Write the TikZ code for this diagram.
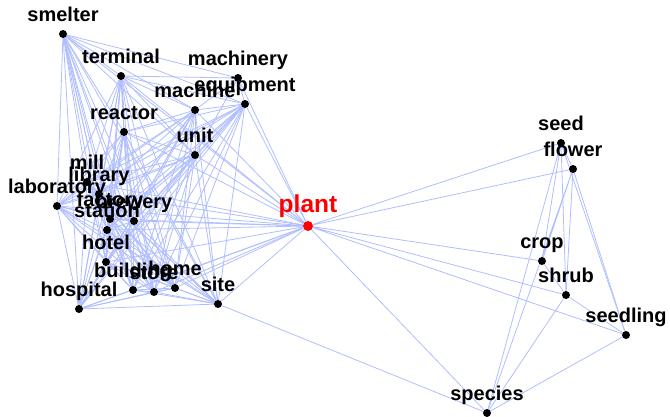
\documentclass[tikz,border=0pt]{standalone}
\usepackage{fontspec}
\setmainfont{Liberation Sans}
\usetikzlibrary{backgrounds}
\definecolor{edgeblue}{RGB}{176,190,255}
\definecolor{plantred}{RGB}{255,0,0}

\begin{document}
\begin{tikzpicture}[x=1pt, y=-1pt, label distance=8.5pt,
  every node/.style={font=\bfseries\fontsize{20}{24}\selectfont},
  dot/.style={circle, fill=black, inner sep=0pt, minimum size=8pt},
  word/.style={inner sep=0pt, text depth=0pt},
  edge/.style={draw=edgeblue, line width=0.8pt}]
  \useasboundingbox (0,0) rectangle (670,417);
  % industrial cluster
  \node[dot, label={[word]above:smelter}] (smelter) at (63,34) {};
  \node[dot, label={[word]above:terminal}] (terminal) at (121,76) {};
  \node[dot, label={[word]above:machinery}] (machinery) at (238,78) {};
  \node[dot, label={[word]above:equipment}] (equipment) at (245,104) {};
  \node[dot, label={[word]above:machine}] (machine) at (195,110) {};
  \node[dot, label={[word]above:reactor}] (reactor) at (124,132) {};
  \node[dot, label={[word]above:unit}] (unit) at (195,155) {};
  \node[dot, label={[word]above:mill}] (mill) at (87,182) {};
  \node[dot, label={[word]above:library}] (library) at (99,194) {};
  \node[dot, label={[word]above:laboratory}] (laboratory) at (57,206) {};
  \node[dot, label={[word]above:factory}] (factory) at (110,219) {};
  \node[dot, label={[word]above:brewery}] (brewery) at (134,221) {};
  \node[dot, label={[word]above:station}] (station) at (107,230) {};
  \node[dot, label={[word]above:hotel}] (hotel) at (106,262) {};
  \node[dot, label={[word]above:building}] (building) at (133,290) {};
  \node[dot, label={[word]above:store}] (store) at (154,292) {};
  \node[dot, label={[word]above:home}] (home) at (175,288) {};
  \node[dot, label={[word]above:hospital}] (hospital) at (79,309) {};
  \node[dot, label={[word]above:site}] (site) at (218,304) {};
  % the hub
  \node[dot, fill=plantred, minimum size=10pt,
    label={[word, text=plantred, font=\bfseries\fontsize{24.5}{28}\selectfont]above:plant}] (plant) at (308,226) {};
  % botanical cluster
  \node[dot, label={[word]above:seed}] (seed) at (561,143) {};
  \node[dot, label={[word]above:flower}] (flower) at (573,169) {};
  \node[dot, label={[word]above:crop}] (crop) at (542,261) {};
  \node[dot, label={[word]above:shrub}] (shrub) at (566,295) {};
  \node[dot, label={[word]above:seedling}] (seedling) at (626,335) {};
  \node[dot, label={[word]above:species}] (species) at (487,413) {};

  \def\industry{smelter,terminal,equipment,machine,reactor,unit,mill,library,laboratory,factory,brewery,station,hotel,building,store,home,hospital,site}
  \begin{scope}[on background layer]
    \foreach \a [count=\i] in \industry {
      \foreach \b [count=\j] in \industry {
        \ifnum\j>\i \draw[edge] (\a) -- (\b); \fi
      }
      \draw[edge] (plant) -- (\a);
    }
    \draw[edge] (machinery) -- (smelter) (machinery) -- (terminal)
      (machinery) -- (equipment) (machinery) -- (machine)
      (machinery) -- (unit) (machinery) -- (plant);
    \draw[edge] (plant) -- (seed) (plant) -- (flower) (plant) -- (crop)
      (plant) -- (shrub) (plant) -- (seedling) (plant) -- (species);
    \draw[edge] (seed) -- (flower) (seed) -- (crop) (seed) -- (shrub)
      (seed) -- (seedling) (seed) -- (species);
    \draw[edge] (flower) -- (crop) (flower) -- (shrub)
      (flower) -- (seedling) (flower) -- (species);
    \draw[edge] (crop) -- (shrub) (shrub) -- (seedling) (shrub) -- (species)
      (seedling) -- (species) (site) -- (species);
  \end{scope}
\end{tikzpicture}
\end{document}
